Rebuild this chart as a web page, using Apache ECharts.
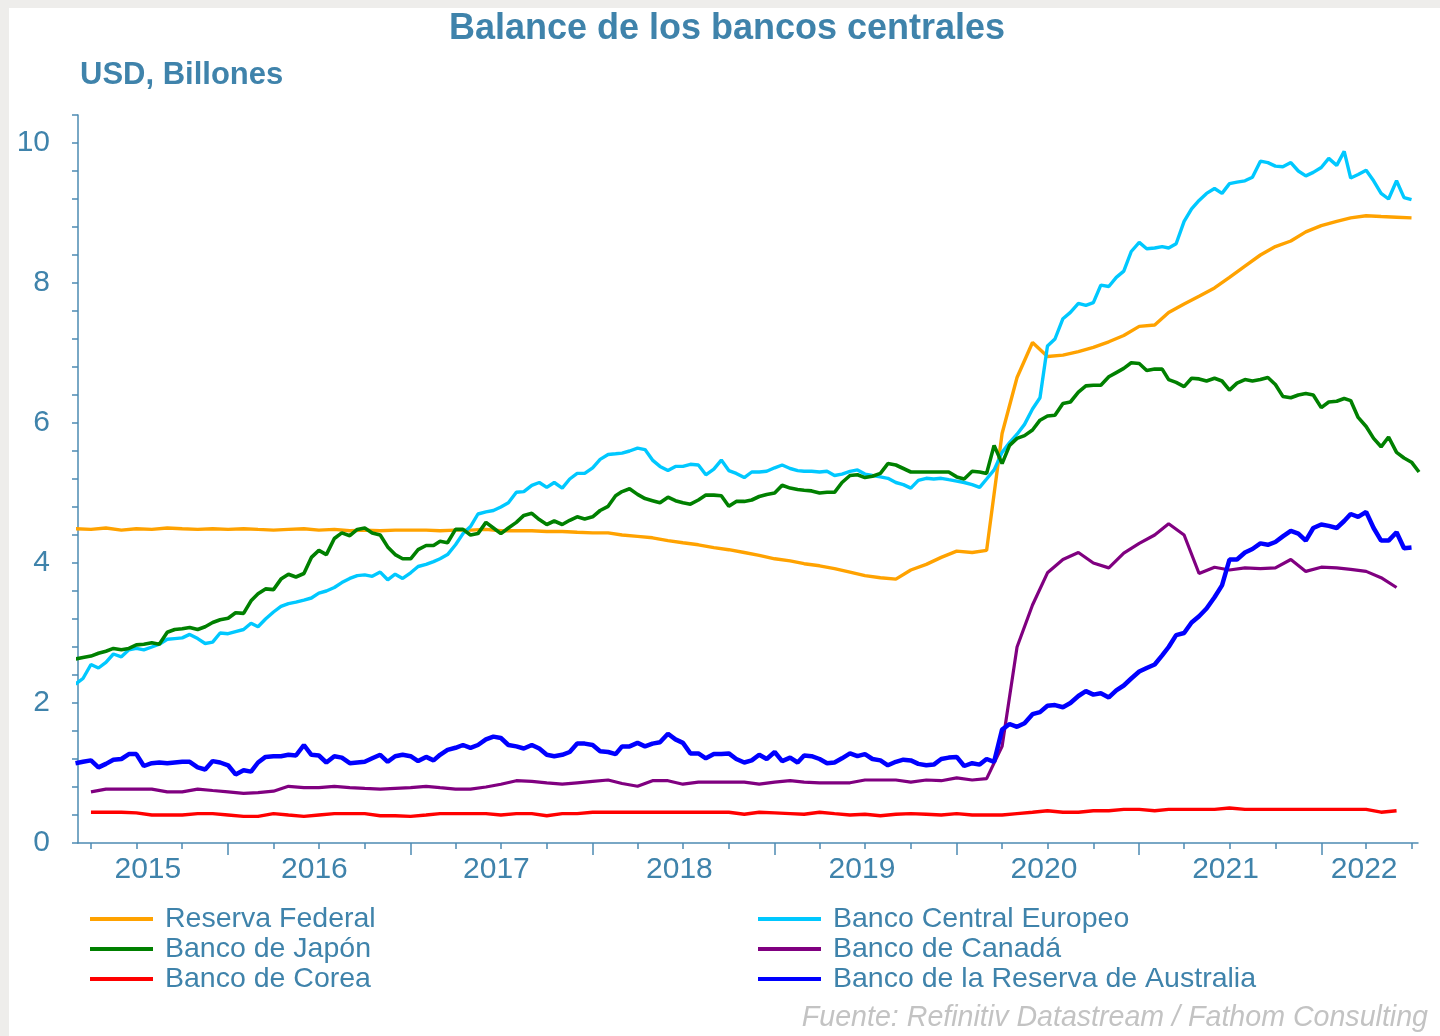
<!DOCTYPE html>
<html><head><meta charset="utf-8">
<script src="https://cdn.jsdelivr.net/npm/echarts@6/dist/echarts.min.js"></script>
<style>html,body{margin:0;padding:0;background:#eeedeb;}#c{width:1440px;height:1036px;}</style>
</head><body><div id="c"></div>
<script>
// ---------- categories ----------
const seriesNames = ['Reserva Federal','Banco Central Europeo','Banco de Japón','Banco de Canadá','Banco de Corea','Banco de la Reserva de Australia'];
const seriesColors = ['#ffa200','#00c8ff','#008000','#800080','#ff0000','#0000ff'];

// monthly dates: 2015-03-01 ... 2022-07-01
const monthDates = [];
for (let y = 2015, m = 3; ; m++) {
  if (m > 12) { m = 1; y++; }
  if (y === 2022 && m > 7) break;
  monthDates.push(new Date(y, m - 1, 1).getTime());
}
// half-monthly dates: 1st and 16th, 2015-03-01 ... 2022-07-16
const halfMonthDates = [];
monthDates.forEach(t => { const d = new Date(t); halfMonthDates.push(t); halfMonthDates.push(new Date(d.getFullYear(), d.getMonth(), 16).getTime()); });

// ---------- series values (USD trillions) ----------
const fed = [
 4.49,4.48,4.50,4.47,4.49,4.48,4.50,4.49,4.48,4.49,
 4.48,4.49,4.48,4.47,4.48,4.49,4.47,4.48,4.46,4.47,4.46,4.47,
 4.47,4.47,4.46,4.47,4.47,4.48,4.46,4.46,4.46,4.45,4.45,4.44,
 4.43,4.43,4.40,4.38,4.36,4.32,4.29,4.26,4.22,4.19,4.15,4.11,
 4.06,4.03,3.99,3.96,3.92,3.87,3.82,3.79,3.77,3.90,3.98,4.08,
 4.17,4.15,4.18,5.85,6.65,7.15,6.95,6.97,7.02,7.08,7.16,7.25,
 7.38,7.40,7.58,7.70,7.81,7.93,8.08,8.24,8.40,8.52,8.60,8.73,
 8.82,8.88,8.93,8.96,8.95,8.94,8.93];
const ecb = [
 2.27,2.35,2.55,2.50,2.58,2.70,2.66,2.76,2.78,2.76,2.80,2.84,2.91,2.92,2.93,2.98,2.92,2.85,2.87,3.00,
 2.99,3.02,3.05,3.14,3.09,3.20,3.30,3.38,3.42,3.44,3.47,3.50,3.57,3.60,3.65,3.72,3.78,3.82,3.83,3.81,3.87,3.76,3.84,3.78,
 3.86,3.95,3.98,4.02,4.06,4.12,4.26,4.42,4.52,4.70,4.73,4.75,4.80,4.86,5.01,5.02,5.11,5.15,5.08,5.15,5.07,5.20,5.28,5.28,
 5.36,5.48,5.55,5.56,5.57,5.60,5.64,5.62,5.47,5.38,5.32,5.38,5.38,5.41,5.40,5.26,5.34,5.47,5.32,5.28,5.22,5.30,5.30,5.31,
 5.36,5.40,5.35,5.32,5.31,5.31,5.30,5.31,5.25,5.27,5.31,5.33,5.27,5.25,5.23,5.21,5.15,5.12,5.07,5.18,5.21,5.20,5.21,5.19,
 5.17,5.15,5.12,5.08,5.20,5.33,5.58,5.72,5.84,5.98,6.20,6.36,7.10,7.20,7.49,7.58,7.71,7.68,7.72,7.97,7.95,8.08,8.17,8.45,
 8.58,8.49,8.50,8.52,8.50,8.56,8.88,9.06,9.18,9.28,9.35,9.28,9.42,9.44,9.46,9.51,9.74,9.72,9.67,9.66,9.72,9.60,9.53,9.58,
 9.65,9.78,9.68,9.88,9.50,9.55,9.61,9.46,9.28,9.20,9.46,9.22,9.19,null];
const japan = [
 2.63,2.65,2.67,2.71,2.74,2.78,2.76,2.78,2.83,2.84,2.86,2.84,3.01,3.05,3.06,3.08,3.05,3.09,3.15,3.19,
 3.21,3.29,3.28,3.46,3.56,3.63,3.62,3.77,3.84,3.80,3.85,4.08,4.18,4.12,4.35,4.43,4.39,4.48,4.50,4.43,4.40,4.23,4.12,4.06,
 4.06,4.19,4.25,4.25,4.31,4.29,4.48,4.48,4.40,4.42,4.58,4.50,4.42,4.50,4.58,4.68,4.71,4.62,4.55,4.60,4.55,4.61,4.66,4.63,
 4.66,4.75,4.81,4.96,5.02,5.06,4.98,4.92,4.89,4.86,4.94,4.89,4.86,4.84,4.90,4.97,4.97,4.96,4.81,4.88,4.88,4.90,4.95,4.98,
 5.00,5.11,5.07,5.05,5.04,5.03,5.00,5.01,5.01,5.15,5.25,5.26,5.22,5.24,5.28,5.42,5.40,5.35,5.30,5.30,5.30,5.30,5.30,5.30,
 5.23,5.20,5.31,5.30,5.28,5.68,5.42,5.68,5.78,5.82,5.90,6.04,6.10,6.11,6.28,6.30,6.44,6.53,6.54,6.54,6.66,6.72,6.78,6.86,
 6.85,6.75,6.77,6.77,6.62,6.58,6.52,6.64,6.63,6.60,6.64,6.60,6.47,6.57,6.62,6.60,6.62,6.65,6.55,6.38,6.36,6.40,6.42,6.40,
 6.22,6.30,6.31,6.35,6.32,6.08,5.95,5.78,5.66,5.80,5.58,5.50,5.44,5.30];
const canada = [
 null,0.73,0.77,0.77,0.77,0.77,0.73,0.73,0.77,0.75,
 0.73,0.71,0.72,0.74,0.81,0.79,0.79,0.81,0.79,0.78,0.77,0.78,
 0.79,0.81,0.79,0.77,0.77,0.80,0.84,0.89,0.88,0.86,0.84,0.86,
 0.88,0.90,0.85,0.81,0.89,0.89,0.84,0.87,0.87,0.87,0.87,0.84,
 0.87,0.89,0.87,0.86,0.86,0.86,0.90,0.90,0.90,0.87,0.90,0.89,
 0.93,0.90,0.92,1.38,2.80,3.40,3.86,4.05,4.15,4.00,3.93,4.14,
 4.28,4.40,4.56,4.40,3.85,3.94,3.90,3.93,3.92,3.93,4.05,3.88,
 3.94,3.93,3.91,3.88,3.79,3.65,null];
const korea = [
 null,0.44,0.44,0.44,0.43,0.40,0.40,0.40,0.42,0.42,
 0.40,0.38,0.38,0.42,0.40,0.38,0.40,0.42,0.42,0.42,0.39,0.39,
 0.38,0.40,0.42,0.42,0.42,0.42,0.40,0.42,0.42,0.39,0.42,0.42,
 0.44,0.44,0.44,0.44,0.44,0.44,0.44,0.44,0.44,0.44,0.41,0.44,
 0.43,0.42,0.41,0.44,0.42,0.40,0.41,0.39,0.41,0.42,0.41,0.40,
 0.42,0.40,0.40,0.40,0.42,0.44,0.46,0.44,0.44,0.46,0.46,0.48,
 0.48,0.46,0.48,0.48,0.48,0.48,0.50,0.48,0.48,0.48,0.48,0.48,
 0.48,0.48,0.48,0.48,0.44,0.46,null];
const australia = [
 1.14,1.16,1.18,1.08,1.13,1.19,1.20,1.27,1.27,1.10,1.14,1.15,1.14,1.15,1.16,1.16,1.08,1.05,1.17,1.15,
 1.11,0.98,1.04,1.02,1.15,1.23,1.24,1.24,1.26,1.25,1.40,1.26,1.25,1.15,1.24,1.22,1.14,1.15,1.16,1.21,1.26,1.16,1.24,1.26,
 1.24,1.17,1.23,1.18,1.26,1.33,1.36,1.40,1.36,1.40,1.48,1.52,1.50,1.40,1.38,1.35,1.40,1.35,1.26,1.24,1.26,1.30,1.42,1.42,
 1.40,1.31,1.30,1.27,1.38,1.38,1.43,1.38,1.42,1.44,1.56,1.48,1.43,1.28,1.28,1.21,1.27,1.27,1.28,1.20,1.15,1.18,1.26,1.20,
 1.30,1.17,1.22,1.15,1.25,1.24,1.20,1.14,1.15,1.21,1.28,1.24,1.27,1.20,1.18,1.11,1.16,1.19,1.18,1.13,1.11,1.12,1.20,1.22,
 1.23,1.10,1.14,1.12,1.20,1.16,1.62,1.70,1.66,1.71,1.84,1.87,1.96,1.97,1.94,2.00,2.10,2.17,2.12,2.14,2.08,2.18,2.25,2.35,
 2.45,2.50,2.55,2.68,2.80,2.97,3.00,3.15,3.24,3.35,3.51,3.68,4.05,4.05,4.15,4.20,4.28,4.26,4.30,4.38,4.46,4.42,4.32,4.50,
 4.55,4.53,4.50,4.60,4.70,4.66,4.73,4.50,4.32,4.32,4.44,4.21,4.22,null];

// ---------- tick / label positions ----------
const yearLabelDates = [[2015,7,24],[2016,6,22],[2017,6,22],[2018,6,24],[2019,6,25],[2020,6,24],[2021,6,23],[2022,3,28]];
const yearTickYears = [2016,2017,2018,2019,2020,2021,2022];
const xMin = new Date(2015,2,6).getTime();
const xMax = new Date(2022,6,14).getTime();
const quarterTicks = [];
for (let y = 2015; y <= 2022; y++) for (const m of [1,4,7,10]) {
  const t = new Date(y, m - 1, 1).getTime();
  if (t > xMin && t < xMax) quarterTicks.push(t);
}

[[fed,monthDates],[canada,monthDates],[korea,monthDates],[ecb,halfMonthDates],[japan,halfMonthDates],[australia,halfMonthDates]].forEach(([a,d],i)=>{
  if (a.length !== d.length) throw new Error('length mismatch ' + i + ': ' + a.length + ' vs ' + d.length);
});

const pair = (vals, dates) => vals.map((v, i) => [dates[i], v]);
const blue = '#3f83ab';
const axisCol = '#4d8bb2';
const FONT = '"Liberation Sans", Arial, sans-serif';

const chart = echarts.init(document.getElementById('c'));
const mk = (idx, data, width) => ({
  name: seriesNames[idx], type: 'line', data, showSymbol: false, symbol: 'none',
  lineStyle: { color: seriesColors[idx], width }, itemStyle: { color: seriesColors[idx] },
  emphasis: { disabled: true }, xAxisIndex: 0, yAxisIndex: 0
});
const legendText = { fontSize: 28.5, color: blue, fontFamily: FONT, lineHeight: 30, padding: [0,0,0,7] };

chart.setOption({
  animation: false,
  backgroundColor: '#eeedeb',
  textStyle: { fontFamily: FONT },
  graphic: [
    { type: 'rect', z: -100, silent: true, shape: { x: 9, y: 8, width: 1431, height: 1028 }, style: { fill: '#ffffff' } },
    { type: 'text', x: 727, y: 29, style: { text: 'Balance de los bancos centrales', font: 'bold 36px ' + FONT, fill: blue, align: 'center', verticalAlign: 'middle' } },
    { type: 'text', x: 80, y: 75, style: { text: 'USD, Billones', font: 'bold 31px ' + FONT, fill: blue, align: 'left', verticalAlign: 'middle' } },
    { type: 'text', x: 1428, y: 1018, style: { text: 'Fuente: Refinitiv Datastream / Fathom Consulting', font: 'italic 28.6px ' + FONT, fill: '#c3c3c3', align: 'right', verticalAlign: 'middle' } }
  ],
  grid: { left: 78, right: 22, top: 115, bottom: 193, containLabel: false },
  legend: [
    { data: [seriesNames[0], seriesNames[2], seriesNames[4]], orient: 'vertical', left: 90, top: 904, itemGap: 0,
      icon: 'rect', itemWidth: 63, itemHeight: 4, selectedMode: false, padding: 0, textStyle: legendText },
    { data: [seriesNames[1], seriesNames[3], seriesNames[5]], orient: 'vertical', left: 758, top: 904, itemGap: 0,
      icon: 'rect', itemWidth: 63, itemHeight: 4, selectedMode: false, padding: 0, textStyle: legendText }
  ],
  xAxis: [
    { type: 'value', position: 'bottom', min: xMin, max: xMax, scale: true,
      axisLine: { show: true, onZero: false, lineStyle: { color: axisCol, width: 1.5 } },
      axisTick: { show: true, length: 6, lineStyle: { color: axisCol, width: 1.5 }, customValues: quarterTicks },
      axisLabel: { show: true, color: blue, fontSize: 30, fontFamily: FONT, margin: 12,
        customValues: yearLabelDates.map(d => new Date(d[0], d[1]-1, d[2]).getTime()),
        formatter: v => String(new Date(v).getFullYear()) },
      splitLine: { show: false }, minorTick: { show: false } },
    { type: 'value', position: 'bottom', min: xMin, max: xMax, scale: true,
      axisLine: { show: false, onZero: false },
      axisTick: { show: true, length: 12, lineStyle: { color: axisCol, width: 1.5 }, customValues: yearTickYears.map(y => new Date(y,0,1).getTime()) },
      axisLabel: { show: false }, splitLine: { show: false } }
  ],
  yAxis: {
    type: 'value', min: 0, max: 10.4, interval: 0.4,
    axisLine: { show: true, lineStyle: { color: axisCol, width: 1.5 } },
    axisTick: { show: true, length: 6, lineStyle: { color: axisCol, width: 1.5 } },
    axisLabel: { color: blue, fontSize: 30, fontFamily: FONT, margin: 28,
      formatter: v => (Math.abs(v / 2 - Math.round(v / 2)) < 1e-6 ? String(Math.round(v)) : '') },
    splitLine: { show: false }
  },
  series: [
    mk(0, pair(fed, monthDates), 3.4),
    mk(1, pair(ecb, halfMonthDates), 3.4),
    mk(2, pair(japan, halfMonthDates), 3.6),
    mk(3, pair(canada, monthDates), 3.2),
    mk(4, pair(korea, monthDates), 3.4),
    mk(5, pair(australia, halfMonthDates), 4.5)
  ]
});
</script></body></html>
